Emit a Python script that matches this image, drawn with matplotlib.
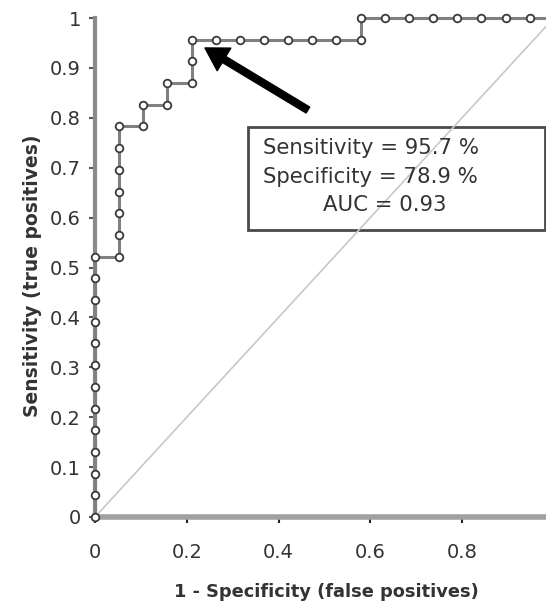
import matplotlib
matplotlib.use('Agg')
import matplotlib.pyplot as plt
from matplotlib.patches import Rectangle
from matplotlib.ticker import FixedLocator, FuncFormatter

plt.rcParams['font.family'] = ['DejaVu Sans']

# pontos da curva ROC (contagens: 19 negativos, 23 positivos)
n_neg = 19
n_pos = 23
falsos_pos = [0, 0, 0, 0, 0, 0, 0, 0, 0, 0, 0, 0, 0,
              1, 1, 1, 1, 1, 1, 1,
              2, 2, 3, 3, 4, 4, 4,
              5, 6, 7, 8, 9, 10, 11,
              11, 12, 13, 14, 15, 16, 17, 18, 19]
verdadeiros_pos = [0, 1, 2, 3, 4, 5, 6, 7, 8, 9, 10, 11, 12,
                   12, 13, 14, 15, 16, 17, 18,
                   18, 19, 19, 20, 20, 21, 22,
                   22, 22, 22, 22, 22, 22, 22,
                   23, 23, 23, 23, 23, 23, 23, 23, 23]

x_ticks = [0, 0.2, 0.4, 0.6, 0.8]
y_ticks = [0, 0.1, 0.2, 0.3, 0.4, 0.5, 0.6, 0.7, 0.8, 0.9, 1]
linhas_texto = ['Sensitivity = 95.7 %', 'Specificity = 78.9 %']
texto_auc = 'AUC = 0.93'

fpr = [v / n_neg for v in falsos_pos]
tpr = [v / n_pos for v in verdadeiros_pos]

fig = plt.figure(figsize=(5.46, 6.06), dpi=100)
ax = fig.add_axes([95 / 546, 1 - 517 / 606, 451 / 546, 499 / 606])
ax.set_xlim(0, 0.983)
ax.set_ylim(0, 1)

# caixa de texto
ax.add_patch(Rectangle((0.333, 0.575), 0.647, 0.207, facecolor='white',
                       edgecolor='#4a4a4a', linewidth=2, zorder=2))
for i, t in enumerate(linhas_texto):
    ax.text(0.366, 0.7395 - i * 0.058, t, fontsize=15.3, color='#333333',
            ha='left', va='center', zorder=4)
ax.text(0.632, 0.625, texto_auc, fontsize=15.3, color='#333333',
        ha='center', va='center', zorder=4)

# diagonal de referencia
ax.plot([0, 1], [0, 1], color='#c8c8c8', linewidth=1.2, zorder=3)

# curva ROC
ax.plot(fpr, tpr, color='#808080', linewidth=2.2, marker='o', markersize=5.5,
        markerfacecolor='white', markeredgecolor='#3a3a3a',
        markeredgewidth=1.3, zorder=5, clip_on=False)

# seta
ax.annotate('', xy=(0.2397, 0.940), xytext=(0.464, 0.8156),
            arrowprops=dict(facecolor='black', edgecolor='black', width=5,
                            headwidth=19, headlength=16),
            zorder=6)

for lado in ['top', 'right']:
    ax.spines[lado].set_visible(False)
ax.spines['left'].set_color('#8a8a8a')
ax.spines['left'].set_linewidth(3)
ax.spines['bottom'].set_color('#a0a0a0')
ax.spines['bottom'].set_linewidth(4)

ax.xaxis.set_major_locator(FixedLocator(x_ticks))
ax.yaxis.set_major_locator(FixedLocator(y_ticks))
fmt = FuncFormatter(lambda v, p: '%g' % v)
ax.xaxis.set_major_formatter(fmt)
ax.yaxis.set_major_formatter(fmt)
ax.tick_params(axis='x', length=4, width=1.5, color='#222222', pad=15,
               labelsize=14, labelcolor='#333333')
ax.tick_params(axis='y', length=4, width=1.5, color='#555555', pad=6,
               labelsize=14, labelcolor='#333333')

ax.set_xlabel('1 - Specificity (false positives)', fontsize=12.8,
              fontweight='bold', color='#333333', va='center')
ax.set_ylabel('Sensitivity (true positives)', fontsize=13.5,
              fontweight='bold', color='#333333', va='center')
ax.xaxis.set_label_coords((326 - 95) / 451, (517 - 592) / 499)
ax.yaxis.set_label_coords((33 - 95) / 451, (517 - 276) / 499)

fig.savefig('out.png', dpi=100)
